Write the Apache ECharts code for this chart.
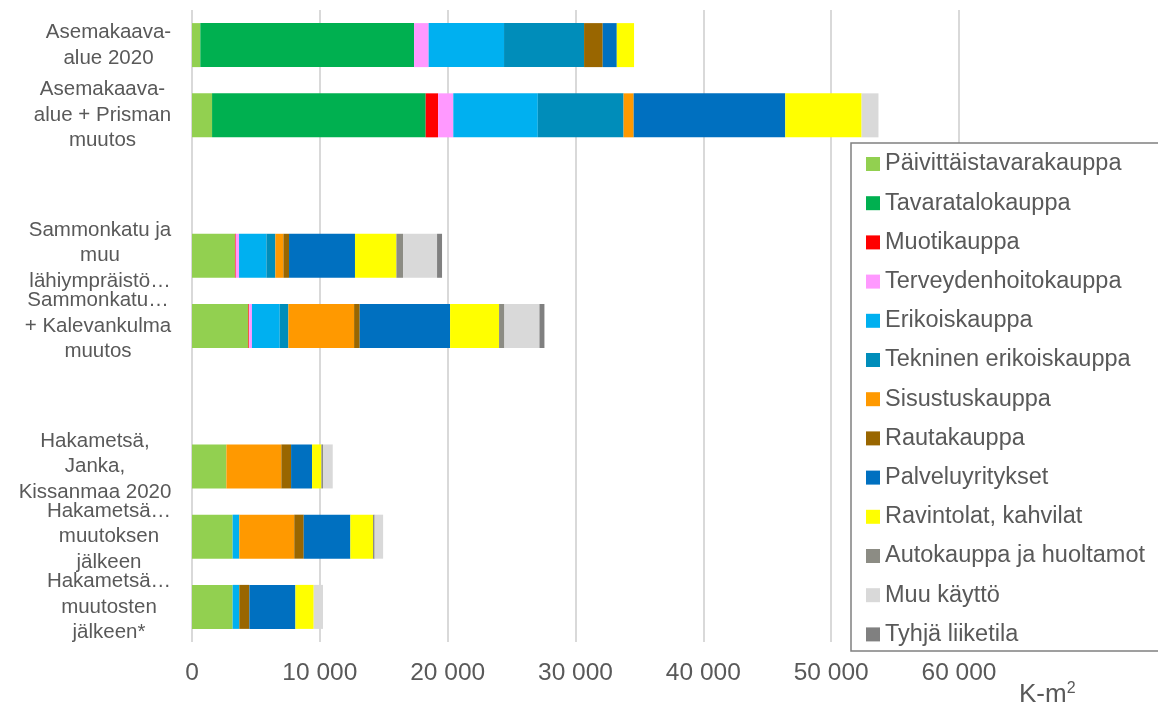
<!DOCTYPE html>
<html>
<head>
<meta charset="utf-8">
<script src="https://cdn.jsdelivr.net/npm/echarts@6/dist/echarts.min.js"></script>
<style>
  html, body { margin: 0; padding: 0; background: #ffffff; }
  #chart { width: 1158px; height: 709px; }
</style>
</head>
<body>
<div id="chart"></div>
<script>
// Area categories, top to bottom (blank entries separate the three groups)
const categories = [
  'Asemakaava-\nalue 2020',
  'Asemakaava-\nalue + Prisman\nmuutos',
  '',
  'Sammonkatu ja\nmuu\nlähiympräistö…',
  'Sammonkatu…\n+ Kalevankulma\nmuutos',
  '',
  'Hakametsä,\nJanka,\nKissanmaa 2020',
  'Hakametsä…\nmuutoksen\njälkeen',
  'Hakametsä…\nmuutosten\njälkeen*'
];

// Floor area (k-m²) per use type, one value per category
const paivittaistavara = [650, 1570, null, 3360, 4410, null, 2690, 3180, 3180];
const tavaratalo       = [16720, 16710, null, 0, 0, null, 0, 0, 0];
const muoti            = [0, 970, null, 60, 60, null, 0, 0, 0];
const terveydenhoito   = [1140, 1190, null, 260, 220, null, 0, 0, 0];
const erikois          = [5900, 6610, null, 2140, 2170, null, 0, 520, 520];
const tekninen         = [6260, 6710, null, 700, 680, null, 0, 0, 0];
const sisustus         = [0, 790, null, 630, 5140, null, 4300, 4300, 0];
const rauta            = [1460, 0, null, 440, 440, null, 760, 740, 790];
const palvelu          = [1100, 11860, null, 5160, 7070, null, 1640, 3650, 3600];
const ravintolat       = [1350, 5970, null, 3240, 3830, null, 730, 1770, 1430];
const autokauppa       = [0, 0, null, 520, 420, null, 130, 130, 0];
const muuKaytto        = [0, 1320, null, 2660, 2740, null, 760, 660, 730];
const tyhja            = [0, 0, null, 390, 390, null, 0, 0, 0];

const xTicks = { min: 0, max: 60000, interval: 10000 };

const seriesDefs = [
  ['Päivittäistavarakauppa', paivittaistavara, '#92D050'],
  ['Tavaratalokauppa', tavaratalo, '#00B050'],
  ['Muotikauppa', muoti, '#FF0000'],
  ['Terveydenhoitokauppa', terveydenhoito, '#FF99FF'],
  ['Erikoiskauppa', erikois, '#00B0F0'],
  ['Tekninen erikoiskauppa', tekninen, '#008DBA'],
  ['Sisustuskauppa', sisustus, '#FF9900'],
  ['Rautakauppa', rauta, '#996600'],
  ['Palveluyritykset', palvelu, '#0070C0'],
  ['Ravintolat, kahvilat', ravintolat, '#FFFF00'],
  ['Autokauppa ja huoltamot', autokauppa, '#8C8C84'],
  ['Muu käyttö', muuKaytto, '#D9D9D9'],
  ['Tyhjä liiketila', tyhja, '#808080']
];

const fontFamily = '"Liberation Sans", Arial, sans-serif';
const catFontSize = 20.5;

// Each category label is a right-aligned block whose lines are centred
// within the block: measure the widest line and give every line that width.
const measureCtx = document.createElement('canvas').getContext('2d');
measureCtx.font = catFontSize + 'px ' + fontFamily;
const catRich = {};
categories.forEach((label, i) => {
  const w = Math.max(1, ...label.split('\n').map(l => measureCtx.measureText(l).width));
  catRich['c' + i] = {
    width: Math.ceil(w) + 1,
    align: 'center',
    color: '#595959',
    fontSize: catFontSize,
    lineHeight: 25.5,
    fontFamily: fontFamily
  };
});

const chart = echarts.init(document.getElementById('chart'), null, { renderer: 'canvas' });

chart.setOption({
  animation: false,
  backgroundColor: '#ffffff',
  grid: { left: 192, right: 199, top: 10, bottom: 67, containLabel: false },
  xAxis: {
    type: 'value',
    min: xTicks.min,
    max: xTicks.max,
    interval: xTicks.interval,
    axisLine: { show: false },
    axisTick: { show: false },
    splitLine: { show: true, lineStyle: { color: '#D9D9D9', width: 2 } },
    axisLabel: {
      color: '#595959',
      fontSize: 24.5,
      fontFamily: fontFamily,
      margin: 19,
      formatter: v => String(v).replace(/\B(?=(\d{3})+(?!\d))/g, ' ')
    }
  },
  yAxis: {
    type: 'category',
    inverse: true,
    data: categories,
    axisLine: { show: false },
    axisTick: { show: false },
    axisLabel: {
      align: 'right',
      margin: 20,
      interval: 0,
      rich: catRich,
      formatter: (value, idx) => {
        if (!value) return '';
        return value.split('\n').map(l => '{c' + idx + '|' + l + '}').join('\n');
      }
    }
  },
  legend: {
    orient: 'vertical',
    left: 861,
    top: 147,
    itemWidth: 14,
    itemHeight: 14,
    itemGap: 15.2,
    icon: 'rect',
    z: 5,
    textStyle: { color: '#595959', fontSize: 23.5, lineHeight: 24, fontFamily: fontFamily },
    data: seriesDefs.map(d => d[0])
  },
  graphic: [
    {
      type: 'rect',
      z: 3,
      shape: { x: 851, y: 143, width: 320, height: 508 },
      style: { fill: '#ffffff', stroke: '#808080', lineWidth: 1.5 }
    },
    {
      type: 'text',
      left: 1019,
      top: 681,
      style: {
        text: '{a|K-m}{b|2}',
        rich: {
          a: { fontSize: 26, fontFamily: fontFamily, fill: '#595959' },
          b: { fontSize: 16, fontFamily: fontFamily, fill: '#595959', padding: [0, 0, 12, 0] }
        }
      }
    }
  ],
  series: seriesDefs.map(([name, values, color]) => ({
    name: name,
    type: 'bar',
    stack: 'total',
    barWidth: 44,
    data: values,
    itemStyle: { color: color }
  }))
});
</script>
</body>
</html>
